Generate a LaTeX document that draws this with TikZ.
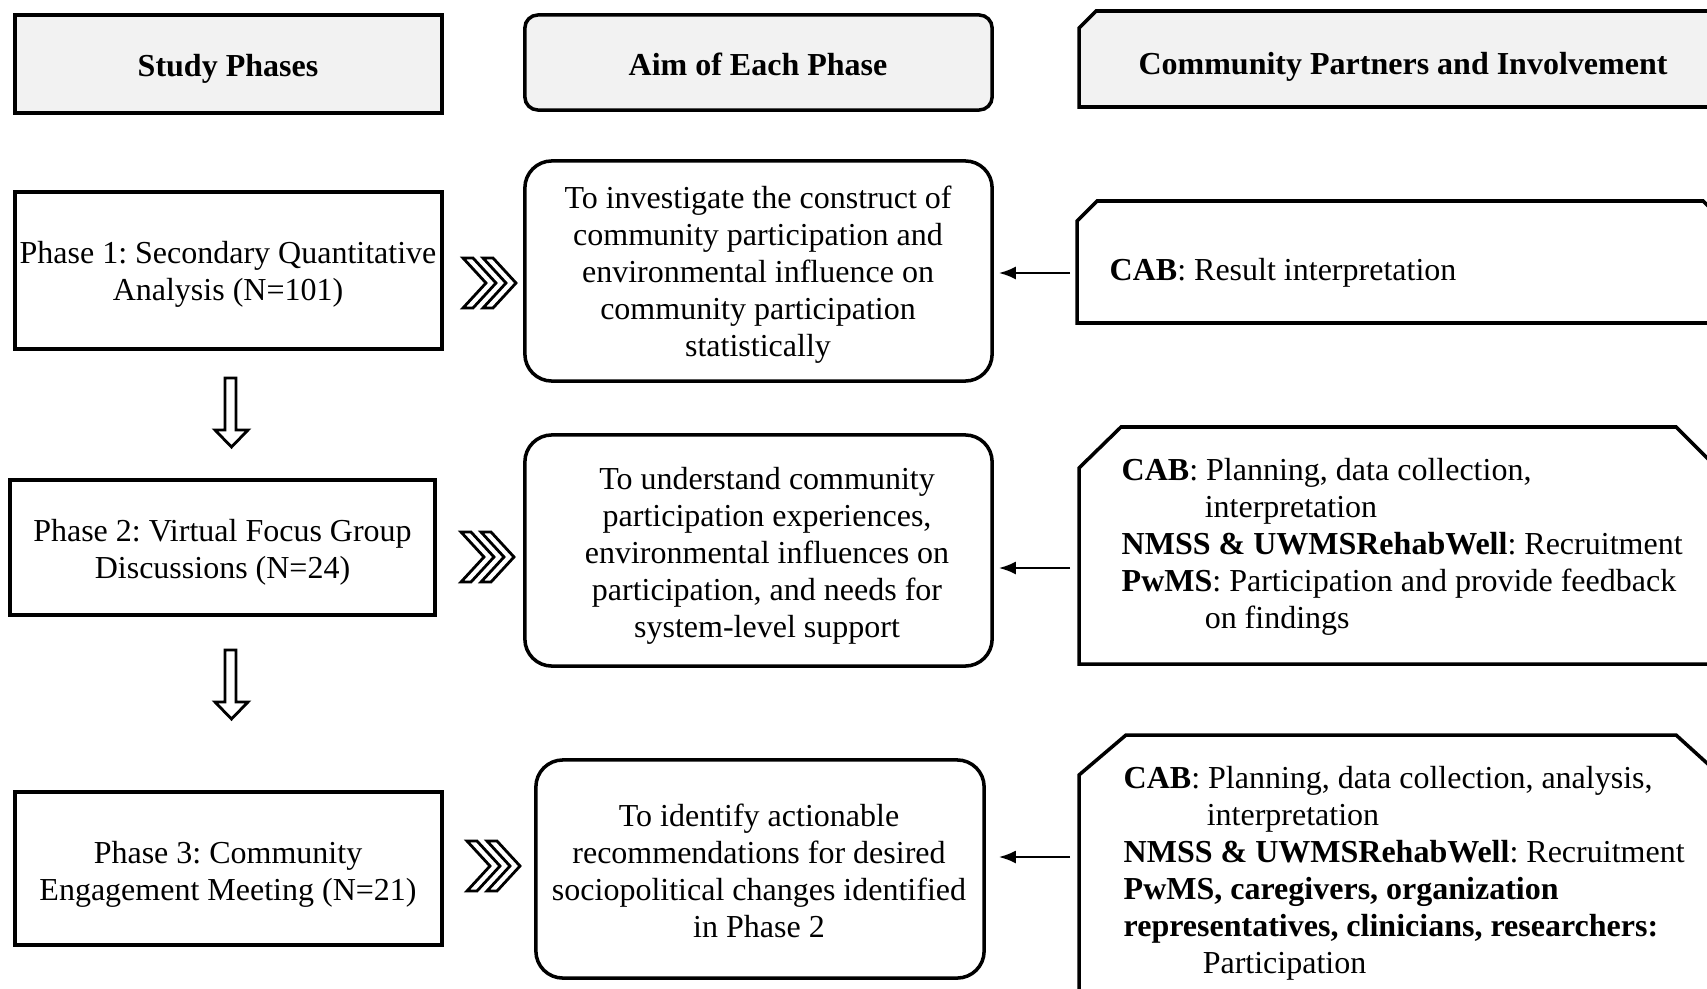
\documentclass[tikz,border=0pt]{standalone}
\usepackage{fontspec}
\setmainfont{Liberation Serif}
\usetikzlibrary{arrows.meta}
\definecolor{hdr}{HTML}{F2F2F2}
\frenchspacing
\begin{document}
\begin{tikzpicture}[x=0.01cm,y=-0.01cm,line join=miter,
  box/.style={draw,line width=1pt,inner sep=0pt},
  headbox/.style={box,fill=hdr},
  aimbox/.style={box,rounded corners=0.27cm},
  txt/.style={align=center,inner sep=0pt,font=\fontsize{9.1}{10.5}\selectfont,yshift=-0.035cm},
  htxt/.style={txt,font=\fontsize{9.1}{10.5}\selectfont\bfseries},
  ltxt/.style={align=left,inner sep=0pt,anchor=west,font=\fontsize{9.1}{10.5}\selectfont,yshift=-0.035cm},
  chev/.style={line width=0.8pt},
  blk/.style={line width=0.8pt},
  conn/.style={-{Latex[length=0.17cm,width=0.13cm]},line width=0.6pt}]
\clip (0,0) rectangle (1707,988);
\useasboundingbox (0,0) rectangle (1707,988);
% headers
\node[headbox,minimum width=4.27cm,minimum height=0.98cm] (h1) at (228.5,64) {};
\node[htxt] (h1t) at (228,65) {Study Phases};
\node[headbox,rounded corners=0.13cm,minimum width=4.67cm,minimum height=0.95cm] (h2) at (758.5,62.5) {};
\node[htxt] (h2t) at (758,61) {Aim of Each Phase};
\draw[line width=1pt,fill=hdr] (1079,28) -- (1096,11) -- (1740,11) -- (1740,107) -- (1079,107) -- cycle;
\node[htxt] (h3t) at (1403,63) {Community Partners and Involvement};
% phase boxes
\node[box,minimum width=4.27cm,minimum height=1.57cm] (p1) at (228.5,270.5) {};
\node[txt] (p1t) at (228,271) {Phase 1: Secondary Quantitative\\Analysis (N=101)};
\node[box,minimum width=4.25cm,minimum height=1.35cm] (p2) at (222.5,547.5) {};
\node[txt] (p2t) at (222.5,548.5) {Phase 2: Virtual Focus Group\\Discussions (N=24)};
\node[box,minimum width=4.27cm,minimum height=1.53cm] (p3) at (228.5,868.5) {};
\node[txt] (p3t) at (228,871) {Phase 3: Community\\Engagement Meeting (N=21)};
% aim boxes
\node[aimbox,minimum width=4.67cm,minimum height=2.20cm] (a1) at (758.5,271) {};
\node[txt] (a1t) at (758,271) {To investigate the construct of\\community participation and\\environmental influence on\\community participation\\statistically};
\node[aimbox,minimum width=4.67cm,minimum height=2.31cm] (a2) at (758.5,550.5) {};
\node[txt] (a2t) at (767,552) {To understand community\\participation experiences,\\environmental influences on\\participation, and needs for\\system-level support};
\node[aimbox,minimum width=4.48cm,minimum height=2.18cm] (a3) at (760,869) {};
\node[txt] (a3t) at (759,867.5) {To identify actionable\\recommendations for desired\\sociopolitical changes identified\\in Phase 2};
% right boxes
\draw[line width=1pt] (1077,221) -- (1097,201) -- (1703,201) -- (1723,221) -- (1723,323) -- (1077,323) -- cycle;
\node[ltxt] (r1t) at (1109,269) {\textbf{CAB}: Result interpretation};
\draw[line width=1pt] (1079,468) -- (1121,427) -- (1676,427) -- (1717,468) -- (1717,664) -- (1079,664) -- cycle;
\node[ltxt] (r2t) at (1121,543.5) {\textbf{CAB}: Planning, data collection,\\\hspace*{0.83cm}interpretation\\\textbf{NMSS \& UWMSRehabWell}: Recruitment\\\textbf{PwMS}: Participation and provide feedback\\\hspace*{0.83cm}on findings};
\draw[line width=1pt] (1079,775) -- (1126,735) -- (1676,735) -- (1720,775) -- (1720,1000) -- (1079,1000) -- cycle;
\node[ltxt] (r3t) at (1123,870) {\textbf{CAB}: Planning, data collection, analysis,\\\hspace*{0.83cm}interpretation\\\textbf{NMSS \& UWMSRehabWell}: Recruitment\\\textbf{PwMS, caregivers, organization}\\\textbf{representatives, clinicians, researchers:}\\\hspace*{0.79cm}Participation};
% chevrons
\foreach \cx/\cy in {463/258,461/532,467/841}{
  \foreach \o in {0,20}{
    \draw[chev,shift={(\cx+\o,\cy)}] (0,0) -- (10,0) -- (33,25) -- (10,50) -- (0,50) -- (23,25) -- cycle;
  }
}
% down block arrows
\foreach \dy in {0,272}{
  \draw[blk,shift={(0,\dy)}] (225,378) -- (236,378) -- (236,430) -- (248,430) -- (231.5,447) -- (215,430) -- (225,430) -- cycle;
}
% left arrows
\coordinate (c1) at (1070,273);
\coordinate (c2) at (1070,568);
\coordinate (c3) at (1070,857);
\draw[conn,shorten >=0.05cm] (c1) -- (c1 -| a1.east);
\draw[conn,shorten >=0.05cm] (c2) -- (c2 -| a2.east);
\draw[conn,shorten >=0.13cm] (c3) -- (c3 -| a3.east);
\end{tikzpicture}
\end{document}
